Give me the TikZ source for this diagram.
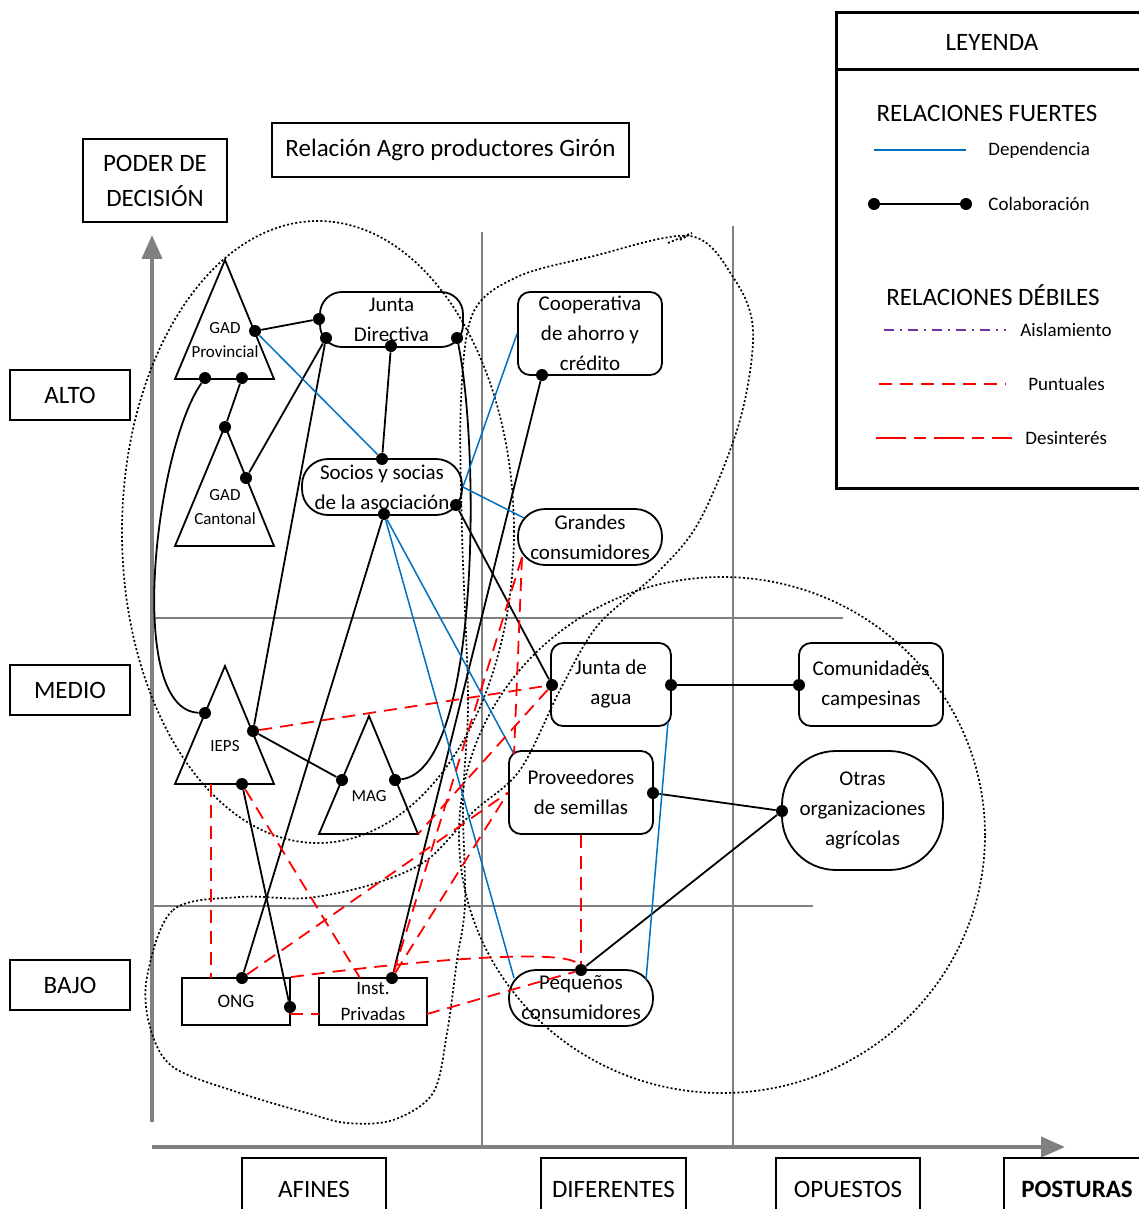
\documentclass[tikz,border=0pt]{standalone}
\usepackage{xcolor}
\usepackage{fontspec}
\setmainfont{Carlito}
\usepackage{tikz}
\usetikzlibrary{arrows.meta}

\definecolor{depblue}{RGB}{0,112,192}
\definecolor{axgray}{RGB}{128,128,128}
\definecolor{aislpurple}{RGB}{112,48,160}

\tikzset{
	actor/.style={draw, line width=0.9pt, align=center, inner sep=0pt, font=\fontsize{10.5}{15}\selectfont},
	smallbox/.style={draw, line width=0.9pt, align=center, inner sep=0pt, font=\fontsize{9.5}{13}\selectfont},
	plain/.style={draw, line width=0.8pt, align=center, inner sep=0pt, font=\fontsize{12.5}{17.5}\selectfont},
	tritext/.style={align=center, inner sep=0pt, font=\fontsize{8.5}{12}\selectfont},
	tri/.style={line width=0.9pt, line join=miter},
	dot/.style={circle, fill=black, inner sep=0pt, minimum size=6pt},
	colab/.style={line width=0.9pt},
	depend/.style={depblue, line width=0.75pt},
	puntual/.style={red, line width=0.9pt, dash pattern=on 6.5pt off 4pt},
	desint/.style={red, line width=0.9pt, dash pattern=on 15pt off 4pt on 6pt off 4pt},
	aislam/.style={aislpurple, line width=0.8pt, dash pattern=on 5pt off 3pt on 1pt off 3pt},
	group/.style={line width=0.85pt, dash pattern=on 1pt off 1.1pt},
	gridline/.style={axgray, line width=1pt},
	axis/.style={axgray, line width=2pt, -{Triangle[length=12pt, width=10pt]}},
	legtitle/.style={inner sep=0pt, font=\fontsize{12.5}{15}\selectfont},
	legtext/.style={inner sep=0pt, anchor=west, font=\fontsize{9.5}{12}\selectfont},
}

\begin{document}
\begin{tikzpicture}[x=0.5pt, y=-0.5pt]
	\useasboundingbox (0,0) rectangle (1139,1209);

	\draw[gridline] (482,232) -- (482,1147);
	\draw[gridline] (733,226) -- (733,1147);
	\draw[gridline] (152,618) -- (843,618);
	\draw[gridline] (152,906) -- (813,906);
	\draw[axis] (152,1122) -- (152,235);
	\draw[axis] (152,1147) -- (1065,1147);

	\node[plain, minimum width=72pt, minimum height=41.5pt] (poder) at (155,180.5) {PODER DE\\DECISIÓN};
	\node[plain, minimum width=178.5pt, minimum height=27pt] (titulo) at (450.5,150) {Relación Agro productores Girón};
	\node[plain, minimum width=60pt, minimum height=25pt] (alto) at (70,395) {ALTO};
	\node[plain, minimum width=60pt, minimum height=25pt] (medio) at (70,690) {MEDIO};
	\node[plain, minimum width=60pt, minimum height=25pt] (bajo) at (70,985) {BAJO};
	\node[plain, minimum width=72pt, minimum height=31pt] (afines) at (314,1189) {AFINES};
	\node[plain, minimum width=72.5pt, minimum height=31pt] (diferentes) at (613.5,1189) {DIFERENTES};
	\node[plain, minimum width=72pt, minimum height=31pt] (opuestos) at (848,1189) {OPUESTOS};
	\node[plain, minimum width=73pt, minimum height=31pt, font=\fontsize{12.5}{15}\selectfont\bfseries] (posturas) at (1077,1189) {POSTURAS};

	\draw[line width=1.5pt] (836,13) rectangle (1150,488);
	\draw[line width=1.5pt] (836,70) -- (1150,70);
	\node[legtitle] (leyenda) at (992,42) {LEYENDA};
	\node[legtitle] (fuertes) at (987,113) {RELACIONES FUERTES};
	\node[legtitle] (debiles) at (993,295) {RELACIONES DÉBILES};
	\node[legtext] (ldep) at (988,150) {Dependencia};
	\node[legtext] (lcol) at (988,204) {Colaboración};
	\node[legtext] (lais) at (1020,330) {Aislamiento};
	\node[legtext] (lpun) at (1028,384) {Puntuales};
	\node[legtext] (ldes) at (1025,438) {Desinterés};
	\coordinate (ld1) at (874,150);
	\coordinate (ld2) at (966,150);
	\node[dot] (lc1) at (874,204) {};
	\node[dot] (lc2) at (966,204) {};
	\coordinate (la1) at (884,330);
	\coordinate (la2) at (1006,330);
	\coordinate (lp1) at (879,384);
	\coordinate (lp2) at (1006,384);
	\coordinate (le1) at (876,438);
	\coordinate (le2) at (1012,438);
	\draw[depend] (ld1) -- (ld2);
	\draw[colab] (lc1) -- (lc2);
	\draw[aislam] (la1) -- (la2);
	\draw[puntual] (lp1) -- (lp2);
	\draw[desint] (le1) -- (le2);

	\draw[group] (318,532) ellipse [x radius=98pt, y radius=155.5pt];
	\draw[group] (722,835) ellipse [x radius=131.5pt, y radius=129pt];
	\draw[group] plot[smooth cycle, tension=0.55] coordinates {
		(147,977) (173,910) (240,897) (307,898) (373,884) (427,860) (473,812) (520,770)
		(560,690) (598,625) (657,573) (700,520) (740,420) (753,330) (733,277) (690,236)
		(590,257) (517,277) (473,313) (461,400) (462,533) (468,700) (463,800) (465,903)
		(457,960) (447,1033) (433,1093) (393,1120) (347,1123) (307,1113) (240,1093) (173,1067) (150,1027)};
	\draw[group] (668,243) -- (692,233) -- (680,240);

	\draw[tri] (225,260) -- (274,379) -- (175,379) -- cycle;
	\draw[tri] (225,426) -- (274,546) -- (175,546) -- cycle;
	\draw[tri] (225,666) -- (274,784) -- (175,784) -- cycle;
	\draw[tri] (369,716) -- (418,834) -- (319,834) -- cycle;
	\node[tritext] (gadp) at (225,340) {GAD\\Provincial};
	\node[tritext] (gadc) at (225,507) {GAD\\Cantonal};
	\node[tritext] (ieps) at (225,746) {IEPS};
	\node[tritext] (mag) at (369,796) {MAG};

	\node[actor, minimum width=71.5pt, minimum height=27.5pt, rounded corners=11pt] (jdir) at (391.5,319.5) {Junta\\Directiva};
	\node[actor, minimum width=80pt, minimum height=28pt, rounded corners=13pt] (socios) at (382,487) {Socios y socias\\de la asociación};
	\node[actor, minimum width=72pt, minimum height=41.5pt, rounded corners=6pt] (coop) at (590,333.5) {Cooperativa\\de ahorro y\\crédito};
	\node[actor, minimum width=72pt, minimum height=28pt, rounded corners=13.5pt] (grandes) at (590,537) {Grandes\\consumidores};
	\node[actor, minimum width=60pt, minimum height=41.5pt, rounded corners=6pt] (jagua) at (611,684.5) {Junta de\\agua};
	\node[actor, minimum width=72pt, minimum height=41.5pt, rounded corners=6pt] (comun) at (871,684.5) {Comunidades\\campesinas};
	\node[actor, minimum width=72pt, minimum height=41.5pt, rounded corners=6pt] (prov) at (581,792.5) {Proveedores\\de semillas};
	\node[actor, minimum width=80.5pt, minimum height=59.5pt, rounded corners=27pt] (otras) at (862.5,810.5) {Otras\\organizaciones\\agrícolas};
	\node[smallbox, minimum width=54pt, minimum height=23.5pt] (ong) at (236,1001.5) {ONG};
	\node[smallbox, minimum width=54pt, minimum height=23.5pt] (inst) at (373,1001.5) {Inst.\\Privadas};
	\node[actor, minimum width=72pt, minimum height=28pt, rounded corners=13.5pt] (peq) at (581,998) {Pequeños\\consumidores};

	\node[dot] (gp1) at (255,331) {};
	\node[dot] (gp2) at (205,378) {};
	\node[dot] (gp3) at (242,378) {};
	\node[dot] (jd1) at (319,319) {};
	\node[dot] (jd2) at (326,338) {};
	\node[dot] (jd3) at (391,346) {};
	\node[dot] (jd4) at (457,338) {};
	\node[dot] (gc1) at (225,427) {};
	\node[dot] (gc2) at (246,478) {};
	\node[dot] (so1) at (382,459) {};
	\node[dot] (so2) at (384,514) {};
	\node[dot] (so3) at (456,505) {};
	\node[dot] (co1) at (542,375) {};
	\node[dot] (ie1) at (205,713) {};
	\node[dot] (ie2) at (253,731) {};
	\node[dot] (ie3) at (242,784) {};
	\node[dot] (ma1) at (342,780) {};
	\node[dot] (ma2) at (395,780) {};
	\node[dot] (ja1) at (552,685) {};
	\node[dot] (ja2) at (671,685) {};
	\node[dot] (cm1) at (799,685) {};
	\node[dot] (pv1) at (653,793) {};
	\node[dot] (ot1) at (782,811) {};
	\node[dot] (on1) at (242,978) {};
	\node[dot] (on2) at (290,1007) {};
	\node[dot] (in1) at (392,978) {};
	\node[dot] (pq1) at (581,970) {};

	\coordinate (gr-nw) at (524,518);
	\coordinate (gr-sw) at (522,557);
	\coordinate (pv-nw) at (514,754);
	\coordinate (pq-nw) at (514,978);
	\coordinate (pq-ne) at (646,980);
	\coordinate (ja-se) at (668,722);
	\coordinate (ie-b) at (211,784);
	\coordinate (on-t) at (211,978);
	\coordinate (in-t) at (360,978);
	\coordinate (ma-r) at (418,834);
	\coordinate (on-e) at (290,1014);
	\coordinate (in-w) at (319,1014);
	\coordinate (in-e) at (427,1014);

	\draw[colab] (gp1) -- (jd1);
	\draw[colab] (gp3) -- (gc1);
	\draw[colab] (gc2) -- (jd2);
	\draw[colab] (jd3) -- (so1);
	\draw[colab] (gp2) .. controls (155,450) and (125,710) .. (ie1);
	\draw[colab] (ie2) -- (jd2);
	\draw[colab] (ie2) -- (ma1);
	\draw[colab] (ma2) .. controls (480,770) and (480,450) .. (jd4);
	\draw[colab] (so2) -- (on1);
	\draw[colab] (ie3) -- (on2);
	\draw[colab] (co1) -- (in1);
	\draw[colab] (so3) -- (ja1);
	\draw[colab] (ja2) -- (cm1);
	\draw[colab] (pv1) -- (ot1);
	\draw[colab] (ot1) -- (pq1);

	\draw[depend] (gp1) -- (so1);
	\draw[depend] (socios.east) -- (coop.west);
	\draw[depend] (socios.east) -- (gr-nw);
	\draw[depend] (so2) -- (pv-nw);
	\draw[depend] (so2) -- (pq-nw);
	\draw[depend] (ja-se) -- (pq-ne);

	\draw[puntual] (ie2) -- (ja1);
	\draw[puntual] (ie-b) -- (on-t);
	\draw[puntual] (ie3) -- (in-t);
	\draw[puntual] (on1) -- (prov.west);
	\draw[puntual] (in1) -- (gr-sw);
	\draw[puntual] (gr-sw) -- (pv-nw);
	\draw[puntual] (ja1) -- (ma-r);
	\draw[puntual] (ong.north east) .. controls (450,956) and (570,950) .. (pq1);
	\draw[puntual] (on-e) -- (in-w);
	\draw[puntual] (in-e) -- (pq1);
	\draw[puntual] (prov.south) -- (pq1);
	\draw[puntual] (in1) -- (prov.west);
\end{tikzpicture}
\end{document}
